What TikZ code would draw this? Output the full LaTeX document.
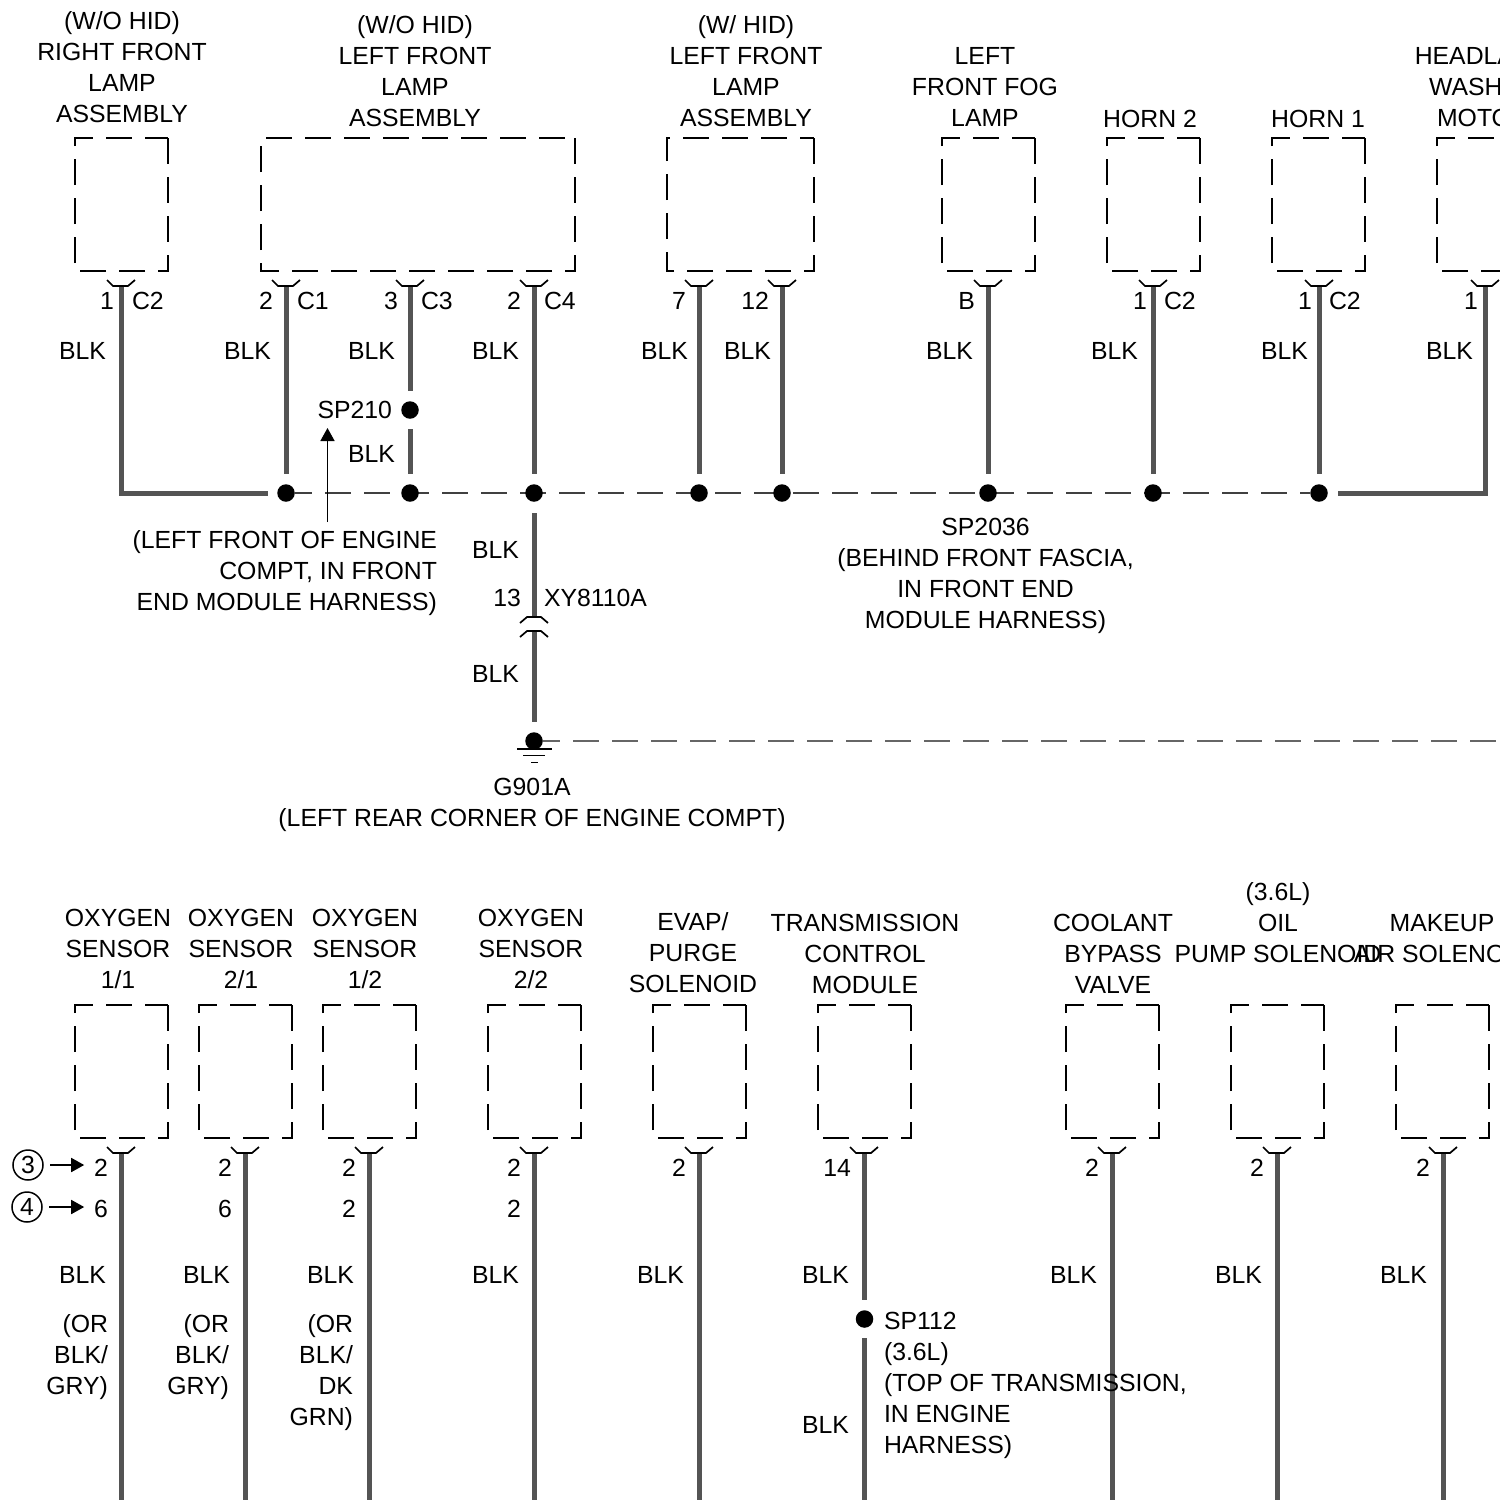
\documentclass[tikz,border=0pt]{standalone}
\usepackage{fontspec}
\setmainfont{Liberation Sans}
\usetikzlibrary{arrows.meta}
\tikzset{
  txt/.style={font=\fontsize{24.8}{31}\selectfont, inner sep=0pt, outer sep=0pt},
  title/.style={txt, align=center, anchor=base},
  pinr/.style={txt, anchor=base east},
  pinl/.style={txt, anchor=base west},
  devbox/.style={minimum width=93pt, minimum height=133pt, inner sep=0pt, outer sep=0pt},
  boxline/.style={line width=2pt, dash pattern=on 26pt off 13pt},
  wire/.style={line width=5pt, draw=black!67},
  dot/.style={circle, fill=black, minimum size=17.5pt, inner sep=0pt, outer sep=0pt},
  bus/.style={line width=1.1pt, draw=black!75, dash pattern=on 26pt off 13pt, dash phase=8.5pt},
  pointer/.style={line width=1.6pt, -{Triangle[width=14pt,length=13pt]}},
  ringnum/.style={txt, draw, circle, line width=1.5pt, minimum size=30pt},
  plug/.pic={\draw[line width=1.7pt] (-14,-6) -- (-8,0) -- (7,0) -- (14,-6);},
  plugdown/.pic={\draw[line width=1.7pt] (-14,6) -- (-7,0) -- (7,0) -- (14,6);}
}
\begin{document}
\begin{tikzpicture}[x=1pt,y=-1pt]
  \clip (0,0) rectangle (1500,1500);
  \coordinate (edgeb) at (0,1500);

  \node[devbox] (rfl) at (121.5,204.5) {};
  \node[devbox, minimum width=314pt] (lfl) at (418,204.5) {};
  \node[devbox, minimum width=147pt] (hid) at (740.5,204.5) {};
  \node[devbox] (fog) at (988.5,204.5) {};
  \node[devbox] (horn2) at (1153.5,204.5) {};
  \node[devbox] (horn1) at (1318.5,204.5) {};
  \node[devbox] (wash) at (1483.5,204.5) {};
  \node[devbox] (o11) at (121.5,1071.5) {};
  \node[devbox] (o21) at (245.5,1071.5) {};
  \node[devbox] (o12) at (369.5,1071.5) {};
  \node[devbox] (o22) at (534.5,1071.5) {};
  \node[devbox] (evap) at (699.5,1071.5) {};
  \node[devbox] (tcm) at (864.5,1071.5) {};
  \node[devbox] (cool) at (1112.5,1071.5) {};
  \node[devbox] (oil) at (1277.5,1071.5) {};
  \node[devbox] (air) at (1442.5,1071.5) {};
  \foreach \b in {rfl,lfl,hid,fog,horn2,horn1,wash,o11,o21,o12,o22,evap,tcm,cool,oil,air}
    \draw[boxline] (\b.north east) -- (\b.south east) -- (\b.south west) -- (\b.north west) -- cycle;

  \node[title] (trfl) at (122,122) {(W/O HID)\\RIGHT FRONT\\LAMP\\ASSEMBLY};
  \node[title] (tlfl) at (415,126) {(W/O HID)\\LEFT FRONT\\LAMP\\ASSEMBLY};
  \node[title] (thid) at (746,126) {(W/ HID)\\LEFT FRONT\\LAMP\\ASSEMBLY};
  \node[title] (tfog) at (985,126) {LEFT\\FRONT FOG\\LAMP};
  \node[title] (thorn2) at (1150,127) {HORN 2};
  \node[title] (thorn1) at (1318,127) {HORN 1};
  \node[title] (twash) at (1483,126) {HEADLAMP\\WASHER\\MOTOR};

  \coordinate (p1) at (121,286);
  \coordinate (p2) at (286,286);
  \coordinate (p3) at (410,286);
  \coordinate (p4) at (534,286);
  \coordinate (p5) at (699,286);
  \coordinate (p6) at (782,286);
  \coordinate (p7) at (988,286);
  \coordinate (p8) at (1153,286);
  \coordinate (p9) at (1319,286);
  \coordinate (p10) at (1485,286);
  \coordinate (busa) at (268,493);
  \coordinate (busb) at (1338,493);
  \coordinate (gndr) at (1500,741);

  \node[dot] (d1) at (286,493) {};
  \node[dot] (d8) at (1319,493) {};
  \node[dot] (gnd) at (534,741) {};
  \draw[bus] (d1) -- (d8);
  \draw[bus, draw=black!60, line width=1.3pt] (gnd) -- (gndr);
  \node[dot] (d2) at (410,493) {};
  \node[dot] (d3) at (534,493) {};
  \node[dot] (d4) at (699,493) {};
  \node[dot] (d5) at (782,493) {};
  \node[dot] (d6) at (988,493) {};
  \node[dot] (d7) at (1153,493) {};
  \node[dot] (sp210) at (410,410) {};

  \draw[wire] (p1) |- (busa);
  \draw[wire] (busb) -| (p10);
  \draw[wire, shorten >=10.5pt] (p2) -- (d1);
  \draw[wire, shorten >=10.5pt] (p3) -- (sp210);
  \draw[wire, shorten <=10.5pt, shorten >=10.5pt] (sp210) -- (d2);
  \draw[wire, shorten >=10.5pt] (p4) -- (d3);
  \draw[wire, shorten >=10.5pt] (p5) -- (d4);
  \draw[wire, shorten >=10.5pt] (p6) -- (d5);
  \draw[wire, shorten >=10.5pt] (p7) -- (d6);
  \draw[wire, shorten >=10.5pt] (p8) -- (d7);
  \draw[wire, shorten >=10.5pt] (p9) -- (d8);

  \pic at (p1) {plug};
  \pic at (p2) {plug};
  \pic at (p3) {plug};
  \pic at (p4) {plug};
  \pic at (p5) {plug};
  \pic at (p6) {plug};
  \pic at (p7) {plug};
  \pic at (p8) {plug};
  \pic at (p9) {plug};
  \pic at (p10) {plug};

  \node[pinr] (n1) at (114,309) {1};
  \node[pinl] (c1) at (132,309) {C2};
  \node[pinr] (n2) at (273,309) {2};
  \node[pinl] (c2) at (297,309) {C1};
  \node[pinr] (n3) at (398,309) {3};
  \node[pinl] (c3) at (421,309) {C3};
  \node[pinr] (n4) at (521,309) {2};
  \node[pinl] (c4) at (544,309) {C4};
  \node[pinr] (n5) at (686,309) {7};
  \node[pinr] (n6) at (769,309) {12};
  \node[pinr] (n7) at (975,309) {B};
  \node[pinr] (n8) at (1147,309) {1};
  \node[pinl] (c8) at (1164,309) {C2};
  \node[pinr] (n9) at (1312,309) {1};
  \node[pinl] (c9) at (1329,309) {C2};
  \node[pinr] (n10) at (1478,309) {1};

  \node[pinr] (b1) at (106,359) {BLK};
  \node[pinr] (b2) at (271,359) {BLK};
  \node[pinr] (b3) at (395,359) {BLK};
  \node[pinr] (b4) at (519,359) {BLK};
  \node[pinr] (b5) at (688,359) {BLK};
  \node[pinr] (b6) at (771,359) {BLK};
  \node[pinr] (b7) at (973,359) {BLK};
  \node[pinr] (b8) at (1138,359) {BLK};
  \node[pinr] (b9) at (1308,359) {BLK};
  \node[pinr] (b10) at (1473,359) {BLK};
  \node[pinr] (b11) at (395,462) {BLK};

  \node[pinr] (tsp210) at (392,418) {SP210};
  \node[txt, align=right, anchor=base east] (tsp210b) at (437,610) {(LEFT FRONT OF ENGINE\\COMPT, IN FRONT\\END MODULE HARNESS)};
  \coordinate (tipb) at (327.5,522);
  \coordinate (tipa) at (327.5,428);
  \draw[pointer] (tipb) -- (tipa);
  \node[title] (tsp2036) at (985.5,628) {SP2036\\(BEHIND FRONT FASCIA,\\IN FRONT END\\MODULE HARNESS)};

  \coordinate (p11) at (534,617);
  \coordinate (p12) at (534,631);
  \draw[wire, shorten <=11.5pt] (d3) -- (p11);
  \draw[wire, shorten >=10.5pt] (p12) -- (gnd);
  \pic at (p11) {plugdown};
  \pic at (p12) {plugdown};
  \draw[line width=1.8pt] (517,749) -- (552,749);
  \draw[line width=1.8pt] (523,755.5) -- (545,755.5);
  \draw[line width=1.8pt] (531,762.5) -- (538,762.5);
  \node[pinr] (b12) at (519,558) {BLK};
  \node[pinr] (n11) at (521,606) {13};
  \node[pinl] (c11) at (544,606) {XY8110A};
  \node[pinr] (b13) at (519,682) {BLK};
  \node[title] (tgnd) at (532,826) {G901A\\(LEFT REAR CORNER OF ENGINE COMPT)};

  \node[title] (to11) at (118,988) {OXYGEN\\SENSOR\\1/1};
  \node[title] (to21) at (241,988) {OXYGEN\\SENSOR\\2/1};
  \node[title] (to12) at (365,988) {OXYGEN\\SENSOR\\1/2};
  \node[title] (to22) at (531,988) {OXYGEN\\SENSOR\\2/2};
  \node[title] (tevap) at (693,992) {EVAP/\\PURGE\\SOLENOID};
  \node[title] (ttcm) at (865,993) {TRANSMISSION\\CONTROL\\MODULE};
  \node[title] (tcool) at (1113,993) {COOLANT\\BYPASS\\VALVE};
  \node[title] (toil) at (1278,962) {(3.6L)\\OIL\\PUMP SOLENOID};
  \node[title] (tair) at (1442,962) {MAKEUP\\AIR SOLENOID};

  \coordinate (q1) at (121,1153);
  \coordinate (q2) at (245,1153);
  \coordinate (q3) at (369,1153);
  \coordinate (q4) at (534,1153);
  \coordinate (q5) at (699,1153);
  \coordinate (q6) at (864,1153);
  \coordinate (q7) at (1112,1153);
  \coordinate (q8) at (1277,1153);
  \coordinate (q9) at (1443,1153);
  \node[dot] (sp112) at (864.5,1319) {};

  \draw[wire] (q1) -- (q1 |- edgeb);
  \draw[wire] (q2) -- (q2 |- edgeb);
  \draw[wire] (q3) -- (q3 |- edgeb);
  \draw[wire] (q4) -- (q4 |- edgeb);
  \draw[wire] (q5) -- (q5 |- edgeb);
  \draw[wire, shorten >=10.5pt] (q6) -- (q6 |- sp112.north);
  \draw[wire, shorten <=10.5pt] (sp112) -- (sp112 |- edgeb);
  \draw[wire] (q7) -- (q7 |- edgeb);
  \draw[wire] (q8) -- (q8 |- edgeb);
  \draw[wire] (q9) -- (q9 |- edgeb);

  \pic at (q1) {plug};
  \pic at (q2) {plug};
  \pic at (q3) {plug};
  \pic at (q4) {plug};
  \pic at (q5) {plug};
  \pic at (q6) {plug};
  \pic at (q7) {plug};
  \pic at (q8) {plug};
  \pic at (q9) {plug};

  \node[pinr] (m1) at (108,1176) {2};
  \node[pinr] (m2) at (232,1176) {2};
  \node[pinr] (m3) at (356,1176) {2};
  \node[pinr] (m4) at (521,1176) {2};
  \node[pinr] (m5) at (686,1176) {2};
  \node[pinr] (m6) at (851,1176) {14};
  \node[pinr] (m7) at (1099,1176) {2};
  \node[pinr] (m8) at (1264,1176) {2};
  \node[pinr] (m9) at (1430,1176) {2};
  \node[pinr] (k1) at (108,1217) {6};
  \node[pinr] (k2) at (232,1217) {6};
  \node[pinr] (k3) at (356,1217) {2};
  \node[pinr] (k4) at (521,1217) {2};

  \node[ringnum] (r3) at (28,1165) {3};
  \node[ringnum] (r4) at (27,1207) {4};
  \draw[pointer, shorten <=7pt, shorten >=10pt] (r3.east) -- (r3.east -| m1.west);
  \draw[pointer, shorten <=7pt, shorten >=10pt] (r4.east) -- (r4.east -| k1.west);

  \node[pinr] (e1) at (106,1283) {BLK};
  \node[pinr] (e2) at (230,1283) {BLK};
  \node[pinr] (e3) at (354,1283) {BLK};
  \node[pinr] (e4) at (519,1283) {BLK};
  \node[pinr] (e5) at (684,1283) {BLK};
  \node[pinr] (e6) at (849,1283) {BLK};
  \node[pinr] (e7) at (1097,1283) {BLK};
  \node[pinr] (e8) at (1262,1283) {BLK};
  \node[pinr] (e9) at (1427,1283) {BLK};
  \node[pinr] (e10) at (849,1433) {BLK};

  \node[txt, align=right, anchor=base east] (or1) at (108,1394) {(OR\\BLK/\\GRY)};
  \node[txt, align=right, anchor=base east] (or2) at (229,1394) {(OR\\BLK/\\GRY)};
  \node[txt, align=right, anchor=base east] (or3) at (353,1425) {(OR\\BLK/\\DK\\GRN)};
  \node[txt, align=left, anchor=base west] (tsp112) at (884,1453) {SP112\\(3.6L)\\(TOP OF TRANSMISSION,\\IN ENGINE\\HARNESS)};
\end{tikzpicture}
\end{document}
